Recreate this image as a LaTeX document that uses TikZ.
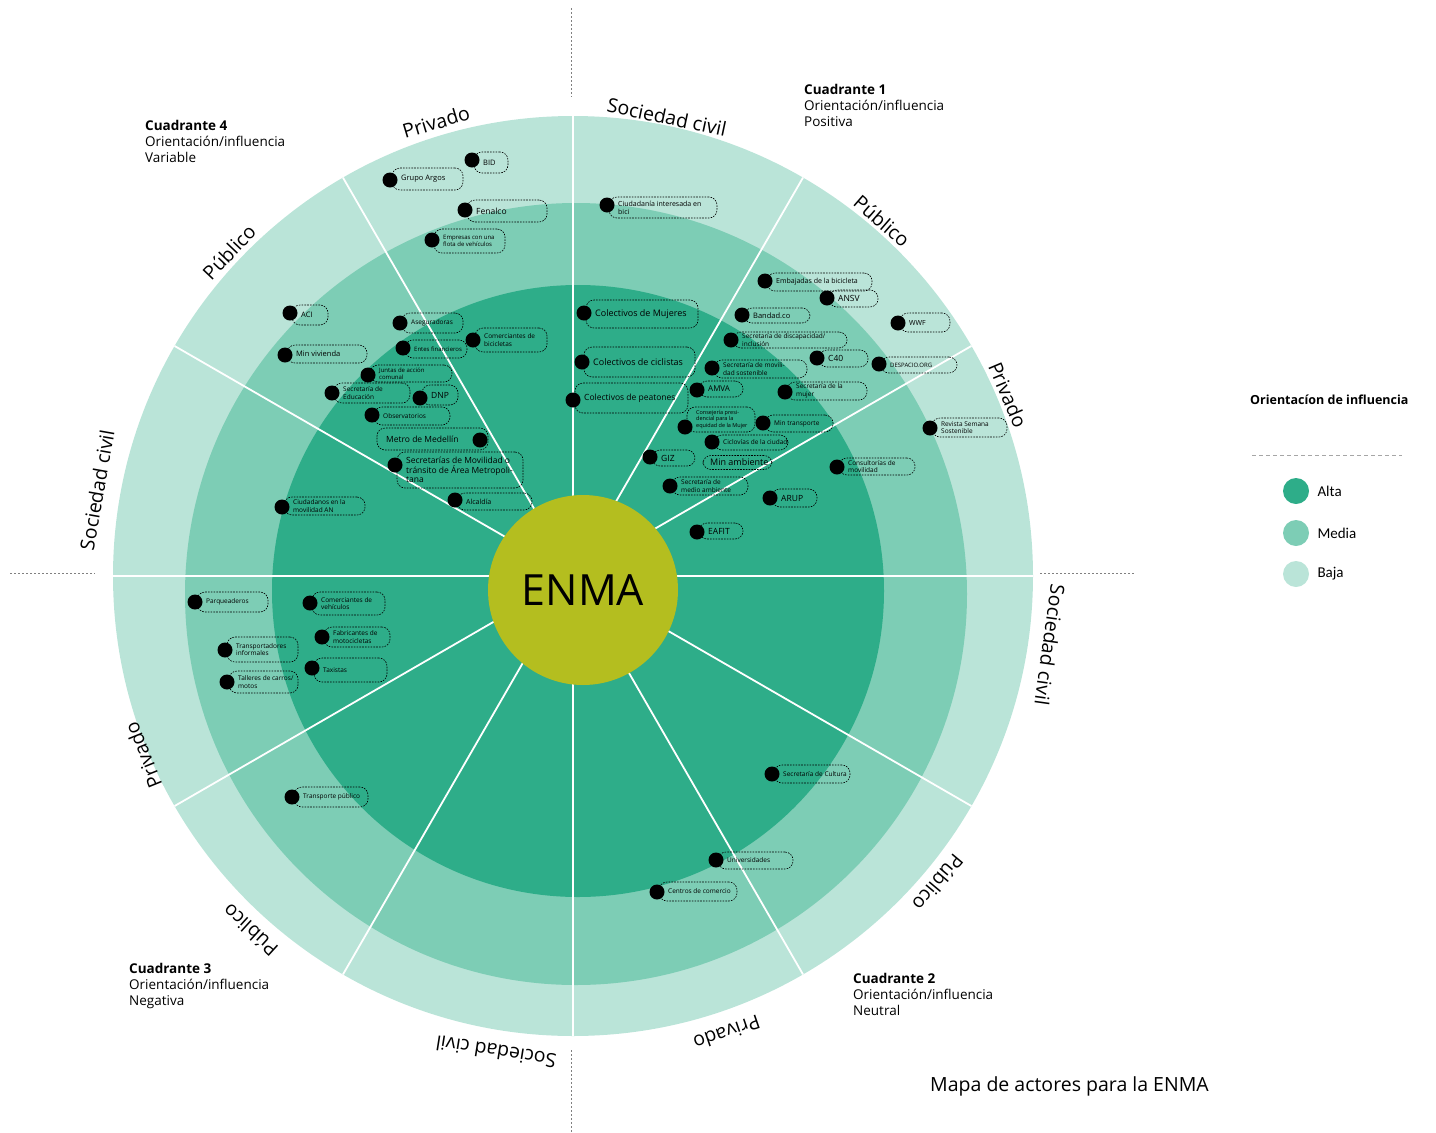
\documentclass[tikz,border=0pt]{standalone}
\usepackage{fontspec}
\setmainfont{Open Sans}
\newfontfamily\legendfont{Carlito}
\usetikzlibrary{calc}
\definecolor{alta}{HTML}{2EAD89}
\definecolor{media}{HTML}{7DCDB5}
\definecolor{baja}{HTML}{BAE4D8}
\definecolor{enma}{HTML}{B4BE1F}
\tikzset{
  dot/.style={circle,fill=black,inner sep=0pt,minimum size=15pt},
  tag/.style={draw,line width=0.6pt,dash pattern=on 1.6pt off 1.2pt,rounded corners=8pt,inner sep=0pt},
  lab/.style={anchor=west,align=left,inner sep=0pt},
  sector/.style={font=\fontsize{19.5}{22}\selectfont},
  guide/.style={gray,line width=0.7pt,dash pattern=on 2pt off 2pt},
  quad/.style={font=\fontsize{13.5}{16}\selectfont,align=left,anchor=north west,inner sep=0pt}
}
\begin{document}
\begin{tikzpicture}[x=1pt,y=-1pt]
\useasboundingbox (0,0) rectangle (1436,1133);
\coordinate (O) at (573,576);
\coordinate (M) at (576,594);
\coordinate (A) at (578,591);
\fill[baja] (O) circle (460);
\fill[media] (M) circle (391);
\fill[alta] (A) circle (306);
\foreach \a in {0,30,...,330}
  \draw[white,line width=1.8pt] (O) -- ($(O)+(\a:460)$);
\node[circle,fill=enma,minimum size=190pt,inner sep=0pt,font=\fontsize{43}{43}\selectfont] (enma) at (583,590) {ENMA};
\draw[guide] (571,8) -- (571,97);
\draw[guide] (571,1050) -- (571,1133);
\draw[guide] (10,573) -- (95,573);
\draw[guide] (1040,573) -- (1135,573);
\foreach \px/\py/\rot/\txt [count=\i] in {667/117/-12/Sociedad civil, 882/221/-41/Público, 1008/395/-67/Privado,
    1050/645/-98/Sociedad civil, 938/883/-130/Público, 727/1033/-161/Privado,
    496/1052/171/Sociedad civil, 250/930/137.5/Público, 143/755/112/Privado,
    97/490/80/Sociedad civil, 229/252/46.5/Público, 436/122/16.7/Privado}
  \node[sector,rotate=\rot] (sec\i) at (\px,\py) {\txt};
\foreach \dx/\dy/\br/\bt/\bb/\fs/\txt [count=\i] in {
    607/205/717/197/218/7/{Ciudadanía interesada en\\bici},
    584/313/698/300/328/9/{Colectivos de Mujeres},
    582/362/695/347/377/9/{Colectivos de ciclistas},
    573/400/688/383/413/8.5/{Colectivos de peatones},
    765/281/872/273/291/7/{Embajadas de la bicicleta},
    827/298/878/290/307/8.5/{ANSV},
    742/315/810/308/323/7.5/{Bandad.co},
    731/340/847/332/348/6.5/{Secretaría de discapacidad/\\inclusión},
    898/323/950/313/332/7/{WWF},
    817/358/868/350/367/8.5/{C40},
    879/364/957/357/373/6/{DESPACIO.ORG},
    712/368/807/360/378/6.5/{Secretaría de movili-\\dad sostenible},
    697/390/743/381/397/8/{AMVA},
    785/392/867/382/400/6.5/{Secretaría de la\\mujer},
    685/427/755/407/432/5.5/{Consejería presi-\\dencial para la\\equidad de la Mujer},
    763/423/833/415/432/6.5/{Min transporte},
    712/442/788/435/450/6.5/{Ciclovías de la ciudad},
    650/457/695/450/466/8.5/{GIZ},
    670/486/748/477/495/6.5/{Secretaría de\\medio ambiente},
    837/467/915/458/475/6.5/{Consultorías de\\movilidad},
    770/498/817/489/507/8.5/{ARUP},
    697/532/743/523/539/8.5/{EAFIT},
    930/428/1007/418/437/6.5/{Revista Semana\\Sostenible},
    472/160/508/152/173/7.5/{BID},
    390/180/463/168/190/7.5/{Grupo Argos},
    465/210/547/200/222/8.5/{Fenalco},
    432/240/505/229/253/6/{Empresas con una\\flota de vehículos},
    290/313/328/305/325/7.5/{ACI},
    285/355/367/345/363/7.5/{Min vivienda},
    400/323/463/313/333/6.5/{Aseguradoras},
    473/340/547/328/352/6.5/{Comerciantes de\\bicicletas},
    403/348/467/340/358/6/{Entes financieros},
    368/375/452/365/382/6/{Juntas de acción\\comunal},
    332/393/410/383/403/6.5/{Secretaría de\\Educación},
    420/398/458/385/405/8.5/{DNP},
    372/415/450/407/425/6.5/{Observatorios},
    395/465/523/452/488/8.5/{Secretarías de Movilidad o\\tránsito de Área Metropoli-\\tana},
    455/500/532/493/510/7/{Alcaldía},
    282/507/365/497/515/6.5/{Ciudadanos en la\\movilidad AN},
    195/602/268/592/612/6.5/{Parqueaderos},
    310/603/385/592/615/6.5/{Comerciantes de\\vehículos},
    322/637/390/627/647/6.5/{Fabricantes de\\motocicletas},
    225/650/298/637/662/6.5/{Transportadores\\informales},
    312/668/387/658/682/6.5/{Taxistas},
    227/682/298/671/693/6.5/{Talleres de carros/\\motos},
    292/797/368/787/807/6.5/{Transporte público},
    772/774/850/765/783/6.5/{Secretaría de Cultura},
    716/860/793/852/869/6.5/{Universidades},
    657/892/737/882/901/6.5/{Centros de comercio}}
{
  \pgfmathsetmacro\w{\br-\dx-2}
  \pgfmathsetmacro\cx{(\dx+2+\br)/2}
  \pgfmathsetmacro\cy{(\bt+\bb)/2}
  \pgfmathsetmacro\h{\bb-\bt}
  \pgfmathsetmacro\ls{\fs*1.15}
  \node[tag,minimum width=\w pt,minimum height=\h pt] (tag\i) at (\cx,\cy) {};
  \node[lab,font=\fontsize{\fs}{\ls}\selectfont] (lab\i) at (\dx+11,\cy) {\txt};
  \node[dot] (dot\i) at (\dx,\dy) {};
}
\node[tag,minimum width=69pt,minimum height=14pt] (minamb) at (737.5,462.5) {};
\node[lab,font=\fontsize{9}{10}\selectfont] (minamblab) at (710,462.5) {Min ambiente};
\node[tag,minimum width=111pt,minimum height=22pt] (metro) at (432.5,439) {};
\node[lab,font=\fontsize{8.5}{10}\selectfont] (metrolab) at (386,439) {Metro de Medellín};
\node[dot] (metrodot) at (480,440) {};
\node[quad] (q1) at (804,84) {\textbf{Cuadrante 1}\\Orientación/influencia\\Positiva};
\node[quad] (q4) at (145,120) {\textbf{Cuadrante 4}\\Orientación/influencia\\Variable};
\node[quad] (q3) at (129,963) {\textbf{Cuadrante 3}\\Orientación/influencia\\Negativa};
\node[quad] (q2) at (853,973) {\textbf{Cuadrante 2}\\Orientación/influencia\\Neutral};
\node[anchor=west,inner sep=0pt,font=\bfseries\fontsize{12.5}{14}\selectfont] (legtitle) at (1250,400) {Orientacíon de influencia};
\draw[gray!70,line width=0.7pt,dash pattern=on 4pt off 3pt] (1252,455) -- (1402,455);
\node[circle,fill=alta,minimum size=26pt,inner sep=0pt] (kalta) at (1296,491) {};
\node[circle,fill=media,minimum size=26pt,inner sep=0pt] (kmedia) at (1296,533) {};
\node[circle,fill=baja,minimum size=26pt,inner sep=0pt] (kbaja) at (1296,574) {};
\node[anchor=west,font=\legendfont\fontsize{15}{17}\selectfont] at ($(kalta)+(18,0)$) {Alta};
\node[anchor=west,font=\legendfont\fontsize{15}{17}\selectfont] at ($(kmedia)+(18,0)$) {Media};
\node[anchor=west,font=\legendfont\fontsize{15}{17}\selectfont] at ($(kbaja)+(18,0)$) {Baja};
\node[anchor=west,inner sep=0pt,font=\fontsize{19.5}{22}\selectfont] (title) at (930,1086) {Mapa de actores para la ENMA};
\end{tikzpicture}
\end{document}
